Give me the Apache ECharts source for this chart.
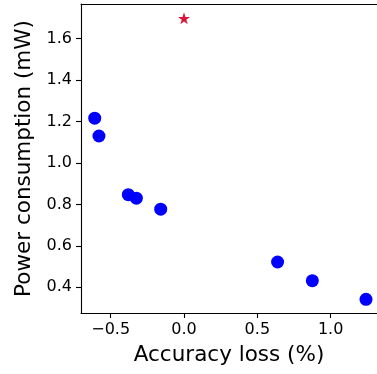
<!DOCTYPE html>
<html>
<head>
<meta charset="utf-8">
<script src="https://cdn.jsdelivr.net/npm/echarts@6/dist/echarts.min.js"></script>
<style>
  html, body { margin: 0; padding: 0; background: #fff; }
  #chart { width: 377px; height: 374px; }
</style>
</head>
<body>
<div id="chart"></div>
<script>
// Accuracy loss (%) vs. power consumption (mW) for each design point
const accuracyLoss = [-0.609, -0.580, -0.380, -0.325, -0.159, 0.638, 0.875, 1.241];
const powerMw      = [1.216, 1.130, 0.847, 0.830, 0.777, 0.522, 0.432, 0.342];

// Reference design (star)
const baselineLoss = [0.0];
const baselinePower = [1.698];

const xTicks = [-0.5, 0.0, 0.5, 1.0];
const yTicks = [0.4, 0.6, 0.8, 1.0, 1.2, 1.4, 1.6];

const FONT = 'DejaVu Sans';

const chart = echarts.init(document.getElementById('chart'), null, { renderer: 'canvas' });

const points = accuracyLoss.map((x, i) => [x, powerMw[i]]);
const baseline = baselineLoss.map((x, i) => [x, baselinePower[i]]);

chart.setOption({
  animation: false,
  backgroundColor: '#ffffff',
  grid: { left: 81, top: 4, right: 0, bottom: 61, containLabel: false },
  xAxis: [
    {
      type: 'value',
      position: 'bottom',
      min: -0.7025,
      max: 1.316,
      name: 'Accuracy loss (%)',
      nameLocation: 'middle',
      nameGap: 31,
      nameTextStyle: { fontFamily: FONT, fontSize: 21.5, color: '#000' },
      axisLine: { show: true, lineStyle: { color: '#000', width: 1.1 } },
      axisTick: { show: true, length: 5, inside: false, lineStyle: { color: '#000', width: 1.1 }, customValues: xTicks },
      axisLabel: {
        fontFamily: FONT, fontSize: 16, color: '#000', margin: 9,
        customValues: xTicks,
        formatter: v => (v < 0 ? '\u2212' : '') + Math.abs(v).toFixed(1)
      },
      splitLine: { show: false }
    },
    {
      // top frame line
      type: 'value',
      position: 'top',
      min: -0.7025,
      max: 1.316,
      axisLine: { show: true, onZero: false, lineStyle: { color: '#000', width: 1.1 } },
      axisTick: { show: false },
      axisLabel: { show: false },
      splitLine: { show: false }
    }
  ],
  yAxis: {
    type: 'value',
    min: 0.276,
    max: 1.767,
    name: 'Power consumption (mW)',
    nameLocation: 'middle',
    nameGap: 39,
    nameTextStyle: { fontFamily: FONT, fontSize: 21.5, color: '#000' },
    axisLine: { show: true, onZero: false, lineStyle: { color: '#000', width: 1.1 } },
    axisTick: { show: true, length: 5, inside: false, lineStyle: { color: '#000', width: 1.1 }, customValues: yTicks },
    axisLabel: {
      fontFamily: FONT, fontSize: 16, color: '#000', margin: 9,
      customValues: yTicks,
      formatter: v => v.toFixed(1)
    },
    splitLine: { show: false }
  },
  series: [
    {
      type: 'scatter',
      xAxisIndex: 0,
      data: points,
      symbol: 'circle',
      symbolSize: 13,
      itemStyle: { color: '#0000ff', opacity: 1 }
    },
    {
      type: 'scatter',
      xAxisIndex: 0,
      data: baseline,
      symbol: 'path://M0,-1 L0.2245,-0.309 L0.951,-0.309 L0.363,0.118 L0.588,0.809 L0,0.382 L-0.588,0.809 L-0.363,0.118 L-0.951,-0.309 L-0.2245,-0.309 Z',
      symbolSize: [12, 12],
      itemStyle: { color: '#dc143c', opacity: 1 }
    }
  ]
});
</script>
</body>
</html>
